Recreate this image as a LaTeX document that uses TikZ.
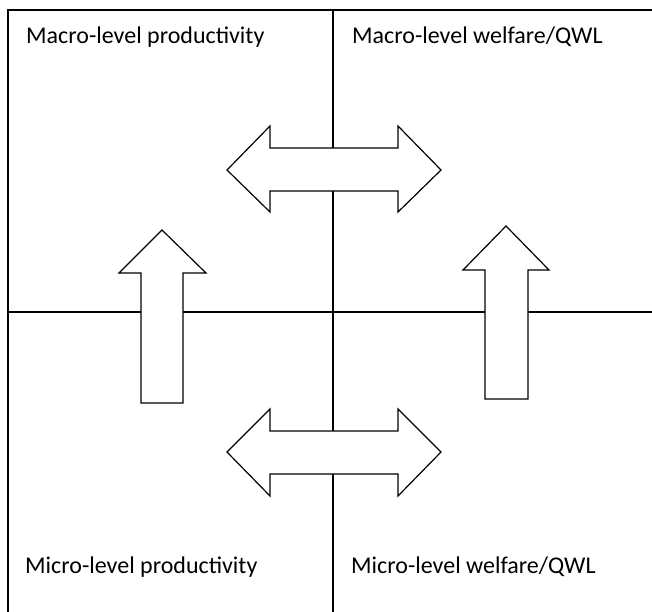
\documentclass[tikz,border=0pt]{standalone}
\usepackage{fontspec}
\setmainfont{Carlito}
\begin{document}
\begin{tikzpicture}[x=1pt,y=-1pt,
  grid/.style={line width=1.4pt,black},
  bigarrow/.style={draw=black,fill=white,line width=1.2pt,line join=miter},
  cell/.style={anchor=base west,inner sep=0pt,font=\fontsize{24}{28}\selectfont}]
\clip (0,0) rectangle (652,611);
\fill[white] (0,0) rectangle (652,611);

% four quadrants of the grid
\draw[grid] (8,10) rectangle (333,312);
\draw[grid] (333,10) rectangle (700,312);
\draw[grid] (8,312) rectangle (333,700);
\draw[grid] (333,312) rectangle (700,700);

% quadrant labels
\node[cell] (macroprod) at (26,43) {Macro-level productivity};
\node[cell] (macrowelf) at (352,43) {Macro-level welfare/QWL};
\node[cell] (microprod) at (25,573) {Micro-level productivity};
\node[cell] (microwelf) at (351,573) {Micro-level welfare/QWL};

% upward arrows: micro to macro
\draw[bigarrow] (162,230) -- (206,273) -- (183,273) -- (183,403) -- (141,403)
  -- (141,273) -- (119,273) -- cycle;
\draw[bigarrow] (506,226) -- (549,270) -- (528,270) -- (528,399) -- (485,399)
  -- (485,270) -- (463,270) -- cycle;

% two-way arrows between productivity and welfare
\draw[bigarrow] (227,170) -- (270,126) -- (270,148) -- (398,148) -- (398,126)
  -- (441,170) -- (398,212) -- (398,191) -- (270,191) -- (270,212) -- cycle;
\draw[bigarrow] (227,452) -- (270,409) -- (270,431) -- (398,431) -- (398,409)
  -- (441,452) -- (398,496) -- (398,474) -- (270,474) -- (270,496) -- cycle;
\end{tikzpicture}
\end{document}
